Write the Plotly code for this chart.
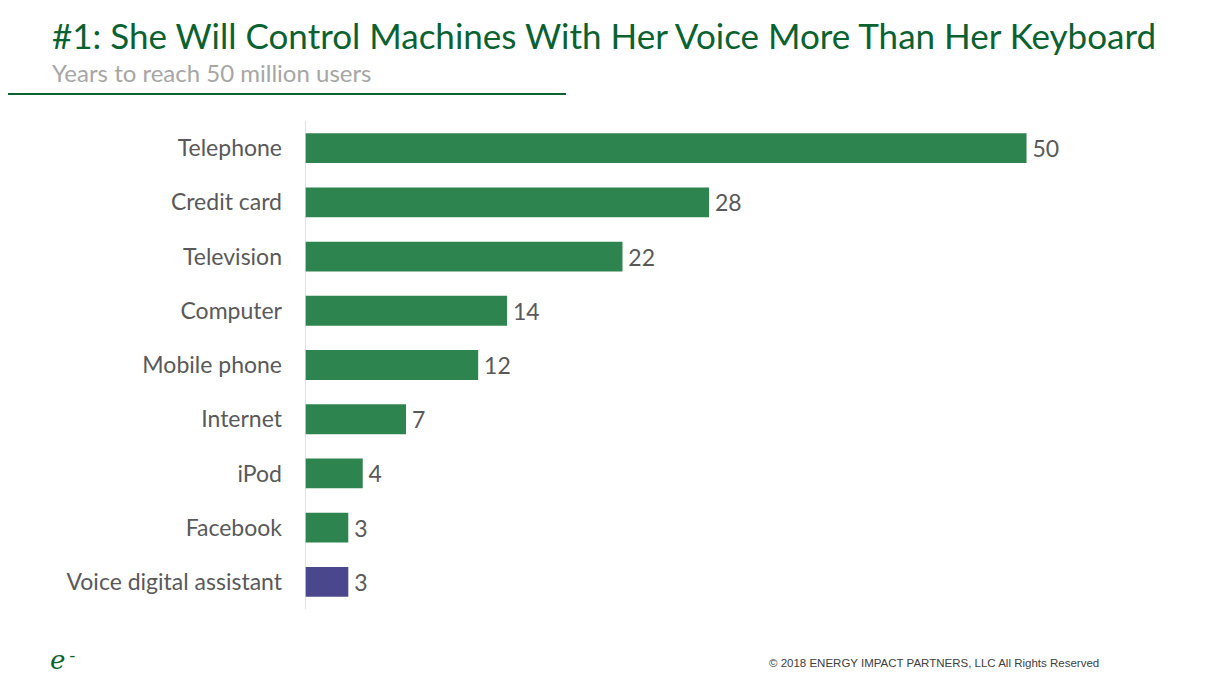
import plotly.graph_objects as go

# Data
categories = ["Telephone", "Credit card", "Television", "Computer", "Mobile phone",
              "Internet", "iPod", "Facebook", "Voice digital assistant"]
years = [50, 28, 22, 14, 12, 7, 4, 3, 3]
bar_colors = ["#2E844E"] * 8 + ["#4B478D"]

title_text = "#1: She Will Control Machines With Her Voice More Than Her Keyboard"
subtitle_text = "Years to reach 50 million users"
footer_text = "© 2018 ENERGY IMPACT PARTNERS, LLC All Rights Reserved"

W, H = 1223, 681
OFF = 8  # page body offset
L, R, T, B = 305 - OFF, 81 + OFF, 121 - OFF, 72 + OFF
PW, PH = W - L - R, H - T - B
font_family = "Lato, Open Sans, sans-serif"


def px(x):
    return (x - OFF - L) / PW


def py(y):
    return (H - (y - OFF) - B) / PH


fig = go.Figure()

fig.add_trace(go.Bar(
    y=categories,
    x=years,
    orientation="h",
    marker=dict(color=bar_colors, line=dict(width=0)),
    text=[str(v) for v in years],
    texttemplate="\u2009%{text}",
    textposition="outside",
    textfont=dict(size=23, color="#595959", family=font_family),
    cliponaxis=False,
    width=0.55,
    hoverinfo="skip",
))

# left axis line
fig.add_shape(type="line", xref="x", yref="paper", x0=0, x1=0, y0=0, y1=1,
              line=dict(color="#D9D9D9", width=1.5))

# header rule under subtitle
fig.add_shape(type="line", xref="paper", yref="paper",
              x0=px(0), x1=px(566), y0=py(94), y1=py(94),
              line=dict(color="#0B6231", width=2))

fig.add_annotation(text=title_text, xref="paper", yref="paper",
                   x=px(50), y=py(35), xanchor="left", yanchor="middle", showarrow=False,
                   font=dict(size=35, color="#0B6231", family=font_family))
fig.add_annotation(text=subtitle_text, xref="paper", yref="paper",
                   x=px(50), y=py(73), xanchor="left", yanchor="middle", showarrow=False,
                   font=dict(size=24, color="#A6A6A6", family=font_family))
fig.add_annotation(text=footer_text, xref="paper", yref="paper",
                   x=px(1101), y=py(663), xanchor="right", yanchor="middle", showarrow=False,
                   font=dict(size=11.5, color="#404040",
                             family="Liberation Sans Narrow, Arial Narrow, sans-serif"))
fig.add_annotation(text="<i>e</i>", xref="paper", yref="paper",
                   x=px(48), y=py(660), xanchor="left", yanchor="middle", showarrow=False,
                   font=dict(size=26, color="#0B6231", family="DejaVu Serif, serif"))
fig.add_annotation(text="-", xref="paper", yref="paper",
                   x=px(67), y=py(655), xanchor="left", yanchor="middle", showarrow=False,
                   font=dict(size=18, color="#0B6231", family=font_family))

fig.update_layout(
    width=W,
    height=H,
    margin=dict(l=L, r=R, t=T, b=B),
    paper_bgcolor="white",
    plot_bgcolor="white",
    showlegend=False,
    bargap=0.45,
    font=dict(family=font_family),
    xaxis=dict(range=[0, 58], visible=False, fixedrange=True),
    yaxis=dict(
        autorange="reversed",
        showline=False,
        showgrid=False,
        ticks="",
        ticklabelstandoff=22,
        tickfont=dict(size=23, color="#595959", family=font_family),
        fixedrange=True,
    ),
)

fig.write_html("out.html")
